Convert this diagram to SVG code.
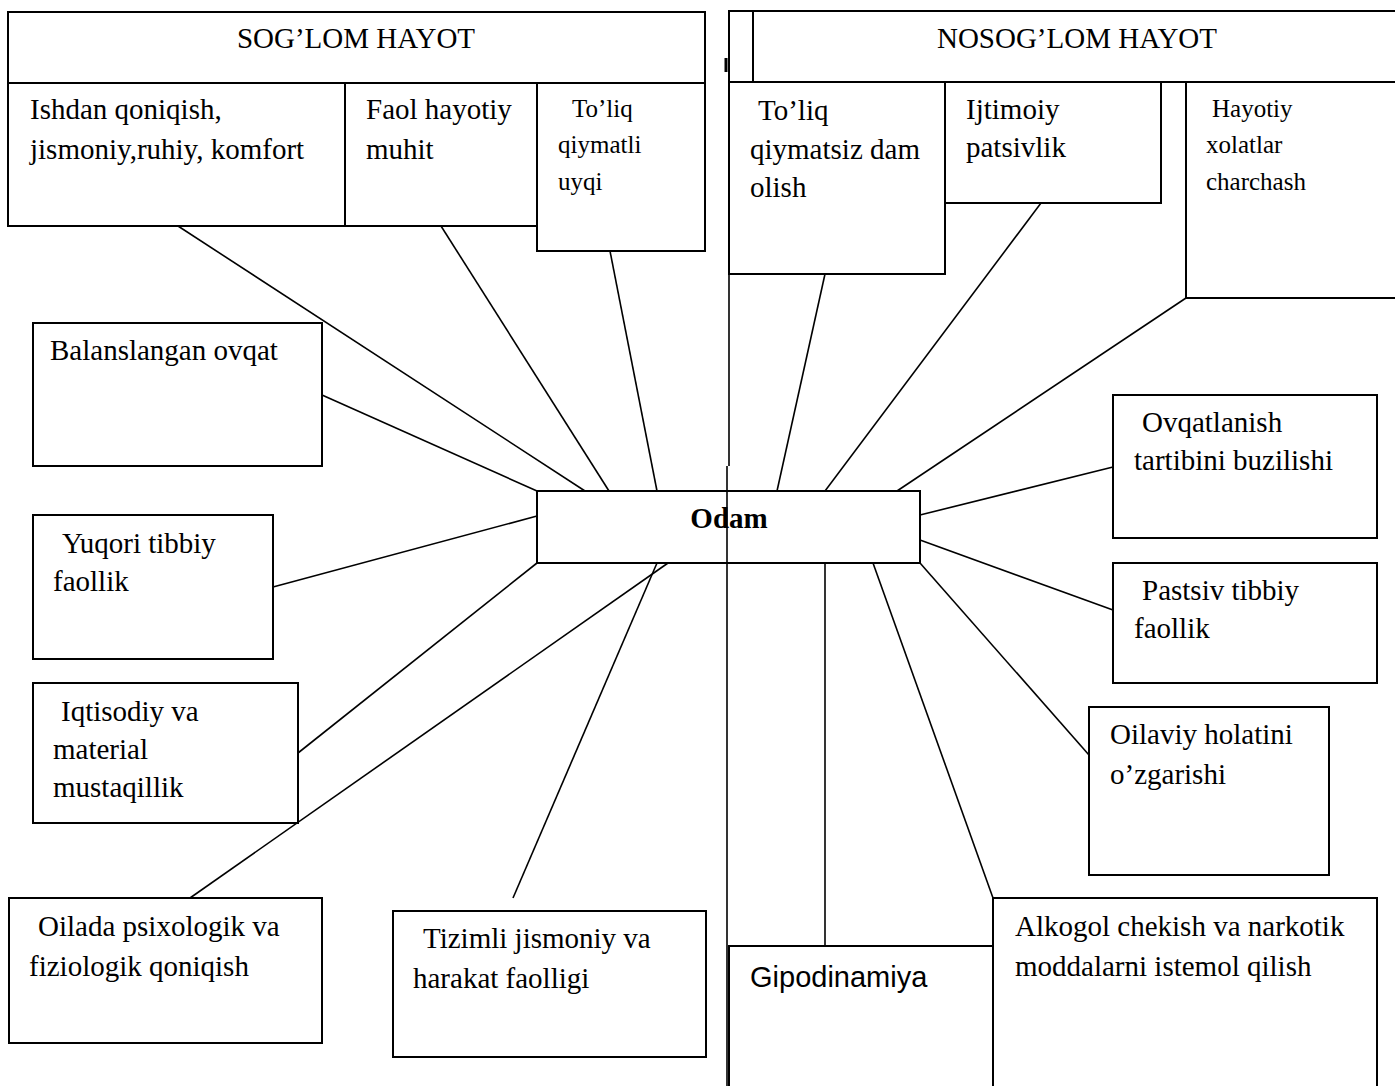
<svg xmlns="http://www.w3.org/2000/svg" width="1395" height="1086" viewBox="0 0 1395 1086">
<style>
.b{fill:#fff;stroke:#000;stroke-width:2}
.t{font-family:"Liberation Serif","Times New Roman",serif;font-size:29px;fill:#000}
.s{font-size:25px}
.c line{stroke:#000;stroke-width:1.6}
</style>
<rect width="1395" height="1086" fill="#fff"/>
<g id="sog-header"><rect class="b" x="8" y="12" width="697" height="71"/><text class="t" x="356" y="48" text-anchor="middle">SOG’LOM HAYOT</text></g>
<g id="nosog-header"><rect class="b" x="729" y="11" width="680" height="71"/><line x1="753" y1="11" x2="753" y2="82" stroke="#000" stroke-width="2"/><text class="t" x="1077" y="48" text-anchor="middle">NOSOG’LOM HAYOT</text></g>
<g class="c" id="connectors">
<line x1="729" y1="82" x2="729" y2="466"/>
<line x1="727" y1="466" x2="727" y2="1086"/>
<line x1="726" y1="58" x2="726" y2="72" style="stroke-width:3"/>
<line x1="178" y1="226" x2="585" y2="491"/>
<line x1="441" y1="226" x2="609" y2="491"/>
<line x1="610" y1="251" x2="657" y2="491"/>
<line x1="322" y1="395" x2="537" y2="491"/>
<line x1="273" y1="587" x2="537" y2="516"/>
<line x1="298" y1="753" x2="537" y2="563"/>
<line x1="190" y1="898" x2="668" y2="563"/>
<line x1="513" y1="898" x2="657" y2="563"/>
<line x1="825" y1="274" x2="777" y2="491"/>
<line x1="1041" y1="203" x2="825" y2="491"/>
<line x1="1186" y1="298" x2="897" y2="491"/>
<line x1="1113" y1="467" x2="920" y2="515"/>
<line x1="1113" y1="610" x2="920" y2="540"/>
<line x1="1089" y1="755" x2="920" y2="563"/>
<line x1="993" y1="898" x2="873" y2="563"/>
<line x1="825" y1="946" x2="825" y2="563"/>
</g>
<g id="ishdan"><rect class="b" x="8" y="83" width="337" height="143"/><text class="t" x="30" y="119">Ishdan qoniqish,</text><text class="t" x="30" y="159">jismoniy,ruhiy, komfort</text></g>
<g id="faol"><rect class="b" x="345" y="83" width="192" height="143"/><text class="t" x="366" y="119">Faol hayotiy</text><text class="t" x="366" y="159">muhit</text></g>
<g id="toliq"><rect class="b" x="537" y="83" width="168" height="168"/><text class="t s" x="572" y="117">To’liq</text><text class="t s" x="558" y="153">qiymatli</text><text class="t s" x="558" y="190">uyqi</text></g>
<g id="balans"><rect class="b" x="33" y="323" width="289" height="143"/><text class="t" x="50" y="360">Balanslangan ovqat</text></g>
<g id="yuqori"><rect class="b" x="33" y="515" width="240" height="144"/><text class="t" x="62" y="553">Yuqori tibbiy</text><text class="t" x="53" y="591">faollik</text></g>
<g id="iqtisodiy"><rect class="b" x="33" y="683" width="265" height="140"/><text class="t" x="61" y="721">Iqtisodiy va</text><text class="t" x="53" y="759">material</text><text class="t" x="53" y="797">mustaqillik</text></g>
<g id="oilada"><rect class="b" x="9" y="898" width="313" height="145"/><text class="t" x="38" y="936">Oilada psixologik va</text><text class="t" x="29" y="976">fiziologik qoniqish</text></g>
<g id="tizimli"><rect class="b" x="393" y="911" width="313" height="146"/><text class="t" x="423" y="948">Tizimli jismoniy va</text><text class="t" x="413" y="988">harakat faolligi</text></g>
<g id="odam"><rect class="b" x="537" y="491" width="383" height="72" style="fill:none"/><text class="t" x="729" y="528" text-anchor="middle" font-weight="bold">Odam</text></g>
<g id="qiymatsiz"><rect class="b" x="729" y="82" width="216" height="192"/><text class="t" x="758" y="120">To’liq</text><text class="t" x="750" y="159">qiymatsiz dam</text><text class="t" x="750" y="197">olish</text></g>
<g id="ijtimoiy"><rect class="b" x="945" y="82" width="216" height="121"/><text class="t" x="966" y="119">Ijtimoiy</text><text class="t" x="966" y="157">patsivlik</text></g>
<g id="hayotiy"><rect class="b" x="1186" y="82" width="230" height="216"/><text class="t s" x="1212" y="117">Hayotiy</text><text class="t s" x="1206" y="153">xolatlar</text><text class="t s" x="1206" y="190">charchash</text></g>
<g id="ovqat"><rect class="b" x="1113" y="395" width="264" height="143"/><text class="t" x="1142" y="432">Ovqatlanish</text><text class="t" x="1134" y="470">tartibini buzilishi</text></g>
<g id="pastsiv"><rect class="b" x="1113" y="563" width="264" height="120"/><text class="t" x="1142" y="600">Pastsiv tibbiy</text><text class="t" x="1134" y="638">faollik</text></g>
<g id="oilaviy"><rect class="b" x="1089" y="707" width="240" height="168"/><text class="t" x="1110" y="744">Oilaviy holatini</text><text class="t" x="1110" y="784">o’zgarishi</text></g>
<g id="alkogol"><rect class="b" x="993" y="898" width="384" height="200"/><text class="t" x="1015" y="936">Alkogol chekish va narkotik</text><text class="t" x="1015" y="976">moddalarni istemol qilish</text></g>
<g id="gipo"><rect class="b" x="729" y="946" width="264" height="150"/><text x="750" y="987" font-family="'Liberation Sans',Arial,sans-serif" font-size="29">Gipodinamiya</text></g>
</svg>
